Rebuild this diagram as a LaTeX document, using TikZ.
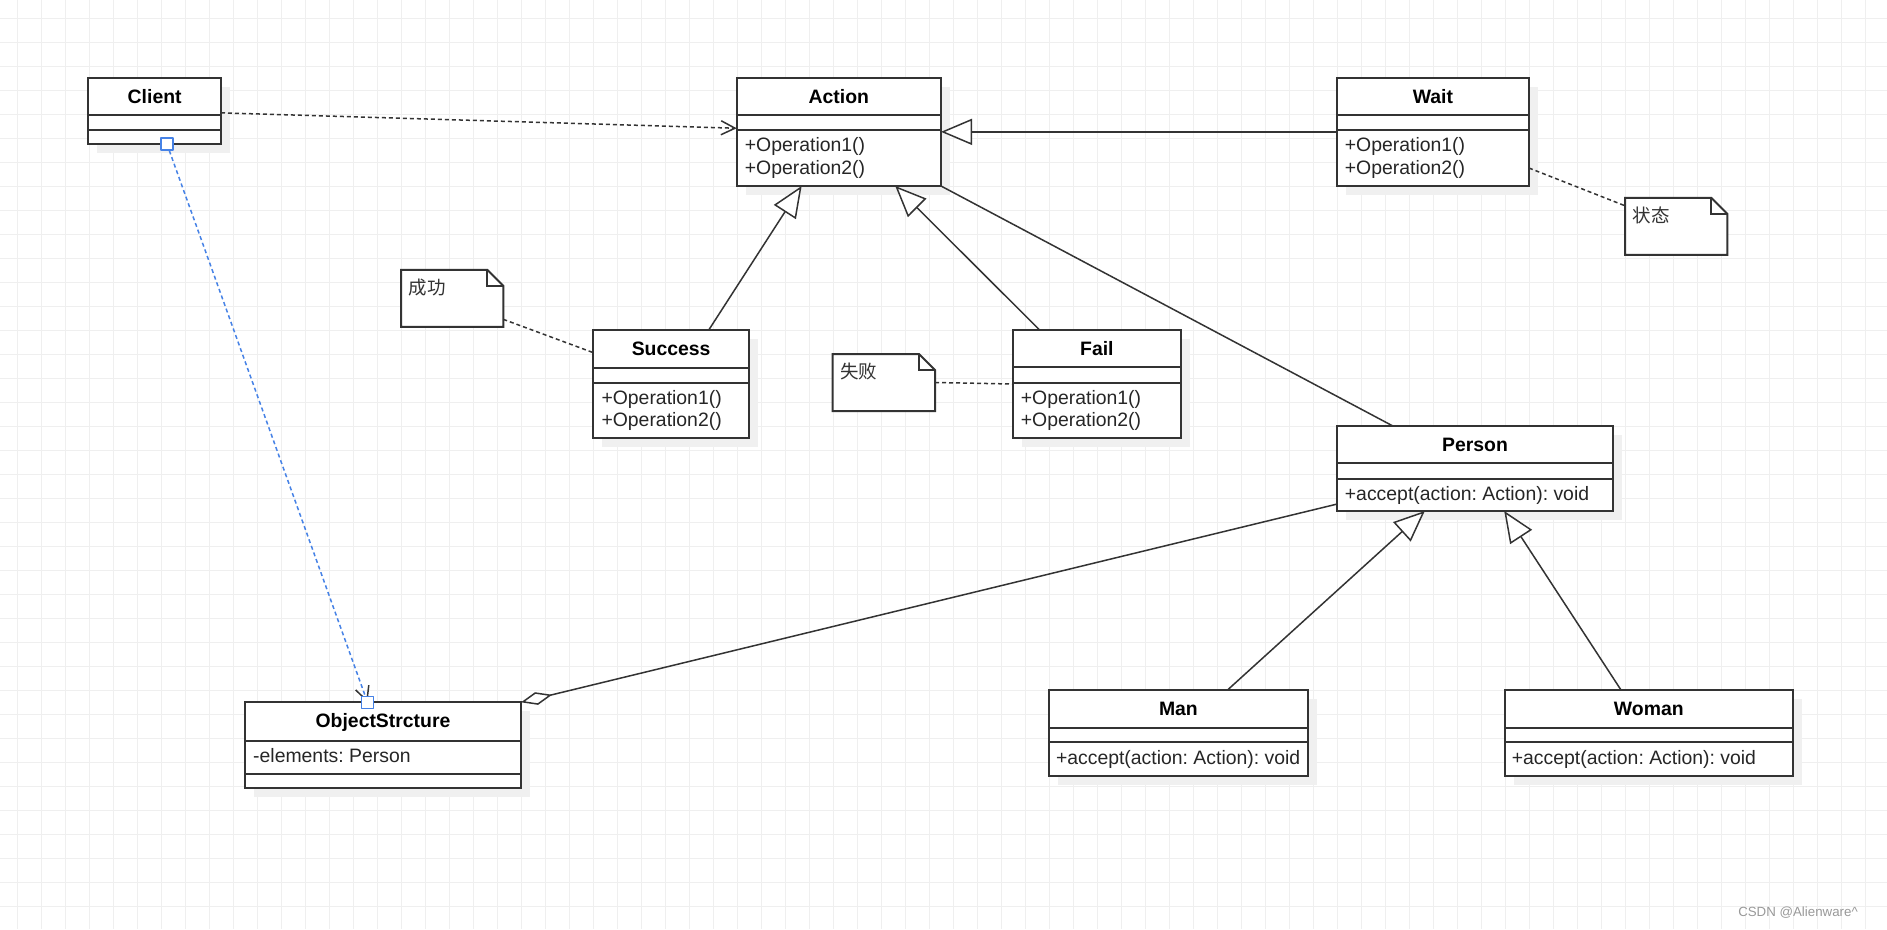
\documentclass[tikz,border=0pt]{standalone}
\usepackage{fontspec}
\setmainfont{Liberation Sans}
\newfontfamily\cjk{Noto Sans CJK SC}
\usetikzlibrary{arrows.meta}
\usetikzlibrary{shadows}
\frenchspacing

\definecolor{gridgray}{RGB}{239,239,239}
\definecolor{linegray}{RGB}{51,51,51}
\definecolor{selblue}{RGB}{70,130,230}

\begin{document}
\begin{tikzpicture}[x=1pt, y=-1pt, line join=round,
  classbox/.style={draw=linegray, line width=2pt, fill=white, inner sep=0pt, outer sep=0pt, line join=miter,
    general shadow={fill=black!6, shadow xshift=9pt, shadow yshift=-9pt}},
  divider/.style={draw=linegray, line width=1.7pt},
  ctitle/.style={font=\fontsize{19.4}{22.3}\selectfont\bfseries, inner sep=0pt, anchor=base},
  cmember/.style={font=\fontsize{19.4}{22.3}\selectfont, text=black!85, inner sep=0pt, anchor=north west, align=left},
  notebox/.style={inner sep=0pt, outer sep=0pt, minimum width=102.3pt, minimum height=57pt},
  noteline/.style={draw=linegray, line width=2pt, fill=white, line join=miter},
  notetext/.style={font=\fontsize{18.5}{20}\cjk, text=black!80, inner sep=0pt, anchor=west},
  dependency/.style={draw=linegray, line width=1.5pt, dash pattern=on 4pt off 3pt, -{Straight Barb[length=14pt, width=14pt]}},
  generalization/.style={draw=linegray, line width=1.5pt, -{Triangle[open, fill=white, length=31pt, width=26pt]}},
  association/.style={draw=linegray, line width=1.5pt},
  aggregation/.style={draw=linegray, line width=1.5pt, {Diamond[open, fill=white, length=32pt, width=13pt]}-},
  notelink/.style={draw=linegray, line width=1.5pt, dash pattern=on 4pt off 3pt},
  selected/.style={draw=selblue, line width=1.5pt, dash pattern=on 4pt off 3pt, -{Straight Barb[color=linegray, length=14pt, width=14pt]}},
  handle/.style={draw=selblue, fill=white, line width=1.3pt, inner sep=0pt, minimum size=12pt},
  gridline/.style={draw=gridgray, line width=1pt}]

\useasboundingbox (0,0) rectangle (1887,929);
\fill[white] (0,0) rectangle (1887,929);
\foreach \gx in {17.3,41.3,...,1887} \draw[gridline] (\gx,0) -- (\gx,929);
\foreach \gy in {18,42,...,929} \draw[gridline] (0,\gy) -- (1887,\gy);

%---------------------------------------------------------------------------------------------------
\node[classbox, minimum width=132.7pt, minimum height=66.3pt] (client) at (154.65,110.85) {};
\draw[divider] ([yshift=-37.3pt]client.north west) -- ([yshift=-37.3pt]client.north east);
\draw[divider] ([yshift=-52.6pt]client.north west) -- ([yshift=-52.6pt]client.north east);
\node[ctitle] (clientT) at ([yshift=-25.6pt]client.north) {Client};

\node[classbox, minimum width=204.3pt, minimum height=108.3pt] (action) at (838.85,131.85) {};
\draw[divider] ([yshift=-37.3pt]action.north west) -- ([yshift=-37.3pt]action.north east);
\draw[divider] ([yshift=-52.6pt]action.north west) -- ([yshift=-52.6pt]action.north east);
\node[ctitle] (actionT) at ([yshift=-25.6pt]action.north) {Action};
\node[cmember] (actionM) at ([xshift=8pt, yshift=-60pt]action.north west) {+Operation1()\\+Operation2()};

\node[classbox, minimum width=192.3pt, minimum height=108.3pt] (wait) at (1432.85,131.85) {};
\draw[divider] ([yshift=-37.3pt]wait.north west) -- ([yshift=-37.3pt]wait.north east);
\draw[divider] ([yshift=-52.6pt]wait.north west) -- ([yshift=-52.6pt]wait.north east);
\node[ctitle] (waitT) at ([yshift=-25.6pt]wait.north) {Wait};
\node[cmember] (waitM) at ([xshift=8pt, yshift=-60pt]wait.north west) {+Operation1()\\+Operation2()};

\node[classbox, minimum width=155.7pt, minimum height=107.7pt] (success) at (671.15,383.85) {};
\draw[divider] ([yshift=-37.7pt]success.north west) -- ([yshift=-37.7pt]success.north east);
\draw[divider] ([yshift=-52.7pt]success.north west) -- ([yshift=-52.7pt]success.north east);
\node[ctitle] (successT) at ([yshift=-25.3pt]success.north) {Success};
\node[cmember] (successM) at ([xshift=8pt, yshift=-60pt]success.north west) {+Operation1()\\+Operation2()};

\node[classbox, minimum width=168.3pt, minimum height=108pt] (fail) at (1096.85,384) {};
\draw[divider] ([yshift=-37.3pt]fail.north west) -- ([yshift=-37.3pt]fail.north east);
\draw[divider] ([yshift=-52.7pt]fail.north west) -- ([yshift=-52.7pt]fail.north east);
\node[ctitle] (failT) at ([yshift=-25.3pt]fail.north) {Fail};
\node[cmember] (failM) at ([xshift=8pt, yshift=-60pt]fail.north west) {+Operation1()\\+Operation2()};

\node[classbox, minimum width=276.6pt, minimum height=85.3pt] (person) at (1475,468.35) {};
\draw[divider] ([yshift=-37pt]person.north west) -- ([yshift=-37pt]person.north east);
\draw[divider] ([yshift=-53.3pt]person.north west) -- ([yshift=-53.3pt]person.north east);
\node[ctitle] (personT) at ([yshift=-25.3pt]person.north) {Person};
\node[cmember] (personM) at ([xshift=8pt, yshift=-60.5pt]person.north west) {+accept(action: Action): void};

\node[classbox, minimum width=276pt, minimum height=85.4pt] (obj) at (383,745) {};
\draw[divider] ([yshift=-38.4pt]obj.north west) -- ([yshift=-38.4pt]obj.north east);
\draw[divider] ([yshift=-72pt]obj.north west) -- ([yshift=-72pt]obj.north east);
\node[ctitle] (objT) at ([yshift=-25pt]obj.north) {ObjectStrcture};
\node[cmember] (objM) at ([xshift=8pt, yshift=-45.5pt]obj.north west) {-elements: Person};

\node[classbox, minimum width=259.2pt, minimum height=86pt] (man) at (1178.4,733) {};
\draw[divider] ([yshift=-37.7pt]man.north west) -- ([yshift=-37.7pt]man.north east);
\draw[divider] ([yshift=-52.3pt]man.north west) -- ([yshift=-52.3pt]man.north east);
\node[ctitle] (manT) at ([yshift=-25pt]man.north) {Man};
\node[cmember] (manM) at ([xshift=7pt, yshift=-60pt]man.north west) {+accept(action: Action): void};

\node[classbox, minimum width=288.4pt, minimum height=86pt] (woman) at (1648.8,733) {};
\draw[divider] ([yshift=-37.7pt]woman.north west) -- ([yshift=-37.7pt]woman.north east);
\draw[divider] ([yshift=-52.3pt]woman.north west) -- ([yshift=-52.3pt]woman.north east);
\node[ctitle] (womanT) at ([yshift=-25pt]woman.north) {Woman};
\node[cmember] (womanM) at ([xshift=7pt, yshift=-60pt]woman.north west) {+accept(action: Action): void};

%---------------------------------------------------------------------------------------------------
\node[notebox] (nsucc) at (452.15,298.35) {};
\draw[noteline] (nsucc.north west) -- ([xshift=-16pt]nsucc.north east) -- ([yshift=-16pt]nsucc.north east) -- (nsucc.south east) -- (nsucc.south west) -- cycle;
\draw[noteline, fill=none] ([xshift=-16pt]nsucc.north east) |- ([yshift=-16pt]nsucc.north east);
\node[notetext] (nsuccT) at ([xshift=7.5pt, yshift=-17.5pt]nsucc.north west) {成功};

\node[notebox] (nfail) at (883.85,382.5) {};
\draw[noteline] (nfail.north west) -- ([xshift=-16pt]nfail.north east) -- ([yshift=-16pt]nfail.north east) -- (nfail.south east) -- (nfail.south west) -- cycle;
\draw[noteline, fill=none] ([xshift=-16pt]nfail.north east) |- ([yshift=-16pt]nfail.north east);
\node[notetext] (nfailT) at ([xshift=7.5pt, yshift=-17.5pt]nfail.north west) {失败};

\node[notebox] (nwait) at (1676.15,226.35) {};
\draw[noteline] (nwait.north west) -- ([xshift=-16pt]nwait.north east) -- ([yshift=-16pt]nwait.north east) -- (nwait.south east) -- (nwait.south west) -- cycle;
\draw[noteline, fill=none] ([xshift=-16pt]nwait.north east) |- ([yshift=-16pt]nwait.north east);
\node[notetext] (nwaitT) at ([xshift=7.5pt, yshift=-17.5pt]nwait.north west) {状态};

%---------------------------------------------------------------------------------------------------
\draw[dependency] ([yshift=-2pt]client.east) -- ([yshift=3.6pt]action.west);
\draw[generalization] (wait.west) -- (action.east);
\draw[generalization] ([xshift=37.6pt]success.north) -- ([xshift=-37.2pt]action.south);
\draw[generalization] ([xshift=-57.2pt]fail.north) -- ([xshift=56.4pt]action.south);
\draw[association] (action.south east) -- ([xshift=-82.7pt]person.north);
\draw[generalization] ([xshift=49.1pt]man.north) -- ([xshift=-50.2pt]person.south);
\draw[generalization] ([xshift=-27.8pt]woman.north) -- ([xshift=29.2pt]person.south);
\draw[aggregation] (obj.north east) -- ([yshift=-35.8pt]person.west);

\draw[notelink] ([yshift=-36.2pt]wait.east) -- ([yshift=20.6pt]nwait.west);
\draw[notelink] ([yshift=-21pt]nsucc.east) -- ([yshift=31.2pt]success.west);
\draw[notelink] (nfail.east) -- (fail.west);

\draw[selected] ([xshift=12.3pt]client.south) -- ([xshift=-15.5pt]obj.north);
\node[handle] (hclient) at ([xshift=12.3pt]client.south) {};
\node[handle] (hobj) at ([xshift=-15.5pt]obj.north) {};

\node[font=\fontsize{13.3}{15}\selectfont, text=black!40, inner sep=0pt] (mark) at (1798,913) {CSDN @Alienware\textasciicircum};

\end{tikzpicture}
\end{document}
